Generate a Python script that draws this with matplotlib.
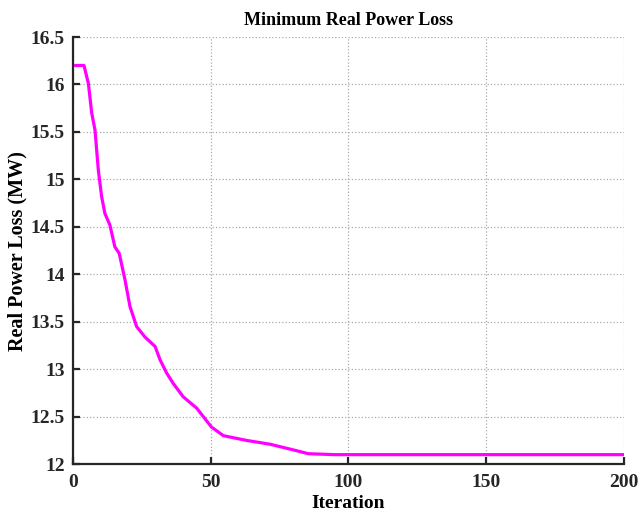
import numpy as np
import matplotlib
matplotlib.use("Agg")
import matplotlib.pyplot as plt

# curve (iteration, loss in MW)
iteration = [1, 4, 5.6, 6.8, 8.0, 9.2, 10.4, 11.6, 13.4, 15.2, 16.8, 18.9, 20.7,
             23.1, 26.1, 29.8, 31.6, 34.0, 36.4, 40.0, 44.9, 50.3, 54.6, 63.0,
             71.5, 80.0, 85.4, 95, 120, 150, 200]
loss = [16.20, 16.20, 16.01, 15.70, 15.52, 15.10, 14.82, 14.64, 14.52, 14.29,
        14.22, 13.94, 13.66, 13.45, 13.34, 13.24, 13.10, 12.96, 12.85, 12.71,
        12.59, 12.39, 12.30, 12.25, 12.21, 12.15, 12.11, 12.10, 12.10, 12.10, 12.10]

plt.rcParams['font.family'] = ['Liberation Serif', 'DejaVu Serif']
plt.rcParams['font.weight'] = 'bold'

fig = plt.figure(figsize=(6.4, 5.14), dpi=100)
ax = fig.add_axes([0.114, 0.097, 0.861, 0.831])

ax.plot(iteration, loss, color='#FF00FF', linewidth=2.3)

ax.set_xlim(0, 200)
ax.set_ylim(12, 16.5)
ax.set_xticks([0, 50, 100, 150, 200])
ax.set_yticks(np.arange(12, 16.51, 0.5))
ax.set_yticklabels(['12', '12.5', '13', '13.5', '14', '14.5', '15', '15.5', '16', '16.5'])

ax.grid(True, linestyle=':', color='#aaaaaa', linewidth=0.9)
for side in ['top', 'right']:
    ax.spines[side].set_visible(False)
for side in ['left', 'bottom']:
    ax.spines[side].set_linewidth(1.6)
    ax.spines[side].set_color('#262626')
ax.tick_params(direction='in', length=5, width=1.6, color='#262626',
               labelcolor='#262626', labelsize=14)
ax.tick_params(axis='y', pad=6)
ax.tick_params(axis='x', pad=7)

ax.set_title('Minimum Real Power Loss', fontsize=13, fontweight='bold', pad=9)
ax.set_xlabel('Iteration', fontsize=14, fontweight='bold', labelpad=3)
ax.set_ylabel('Real Power Loss (MW)', fontsize=14.5, fontweight='bold', labelpad=2)

fig.savefig('out.png', dpi=100)
